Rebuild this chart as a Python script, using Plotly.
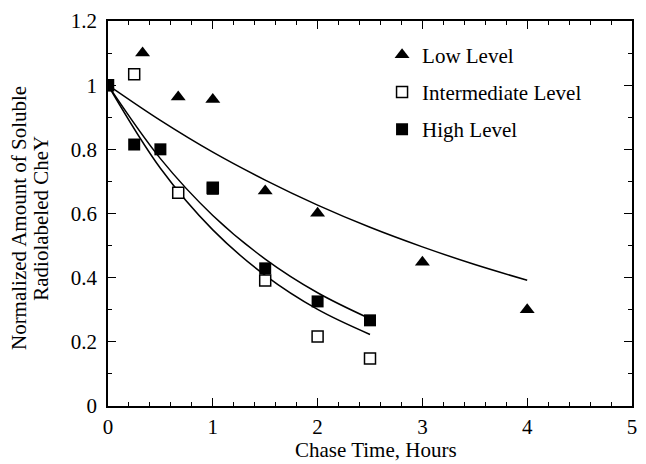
import plotly.graph_objects as go

# Measured data (Chase time in hours, normalized soluble CheY)
low_x = [0.33, 0.67, 1.0, 1.5, 2.0, 3.0, 4.0]
low_y = [1.10, 0.963, 0.955, 0.670, 0.601, 0.448, 0.300]

mid_x = [0.0, 0.25, 0.67, 1.0, 1.5, 2.0, 2.5]
mid_y = [1.0, 1.034, 0.665, 0.68, 0.391, 0.217, 0.148]

high_x = [0.0, 0.25, 0.5, 1.0, 1.5, 2.0, 2.5]
high_y = [1.0, 0.815, 0.80, 0.677, 0.429, 0.326, 0.267]

# Fitted curves
low_fit_x = [0, 0.5, 1.0, 1.5, 2.0, 2.5, 3.0, 3.5, 4.0]
low_fit_y = [1.0, 0.890, 0.791, 0.704, 0.626, 0.557, 0.496, 0.441, 0.392]
mid_fit_x = [0, 0.5, 1.0, 1.5, 2.0, 2.5]
mid_fit_y = [1.0, 0.741, 0.549, 0.407, 0.301, 0.223]
high_fit_x = [0, 0.5, 1.0, 1.5, 2.0, 2.5]
high_fit_y = [1.0, 0.771, 0.594, 0.458, 0.353, 0.272]

x_ticks = [0, 1, 2, 3, 4, 5]
y_ticks = [0, 0.2, 0.4, 0.6, 0.8, 1.0, 1.2]
y_tick_text = ["0", "0.2", "0.4", "0.6", "0.8", "1", "1.2"]

x_title = "Chase Time, Hours"
y_title_lines = ["Normalized Amount of Soluble", "Radiolabeled CheY"]

FONT = "Liberation Serif"
line_style = dict(color="black", width=1.5, shape="spline")

fig = go.Figure()
for fx, fy in [(low_fit_x, low_fit_y), (mid_fit_x, mid_fit_y), (high_fit_x, high_fit_y)]:
    fig.add_trace(go.Scatter(x=fx, y=fy, mode="lines", line=line_style,
                             showlegend=False, hoverinfo="skip"))

fig.add_trace(go.Scatter(x=low_x, y=low_y, mode="markers", name="Low Level",
                         legendgroup="a",
                         marker=dict(symbol="triangle-up", size=13, color="black",
                                     line=dict(width=0))))
fig.add_trace(go.Scatter(x=mid_x, y=mid_y, mode="markers", name="Intermediate Level",
                         legendgroup="b",
                         marker=dict(symbol="square", size=11, color="white",
                                     line=dict(color="black", width=1.5))))
fig.add_trace(go.Scatter(x=high_x, y=high_y, mode="markers", name="High Level",
                         legendgroup="c",
                         marker=dict(symbol="square", size=12, color="black",
                                     line=dict(width=0))))

axis_common = dict(showline=True, linecolor="black", linewidth=1.5, mirror="ticks",
                   ticks="inside", ticklen=8, tickwidth=1.2, tickcolor="black",
                   showgrid=False, zeroline=False,
                   tickfont=dict(family=FONT, size=21, color="black"))

fig.update_xaxes(range=[0, 5], tickvals=x_ticks, ticklabelstandoff=1,
                 minor=dict(ticks="inside", ticklen=4, dtick=0.2, tickcolor="black", tickwidth=1),
                 **axis_common)
fig.update_yaxes(range=[0, 1.2], tickvals=y_ticks, ticktext=y_tick_text, ticklabelstandoff=5,
                 minor=dict(ticks="inside", ticklen=4, dtick=0.1, tickcolor="black", tickwidth=1),
                 **axis_common)

fig.add_annotation(text=x_title, xref="paper", yref="paper", x=0.511, y=-0.113,
                   xanchor="center", yanchor="middle", showarrow=False,
                   font=dict(family=FONT, size=21, color="black"))
for xp, line in zip([-0.170, -0.1285], y_title_lines):
    fig.add_annotation(text=line, xref="paper", yref="paper", x=xp, y=0.488,
                       xanchor="center", yanchor="middle", showarrow=False, textangle=-90,
                       font=dict(family=FONT, size=21, color="black"))

fig.update_layout(
    width=646, height=464,
    margin=dict(l=108, r=9, t=19, b=58),
    paper_bgcolor="white", plot_bgcolor="white",
    font=dict(family=FONT, color="black"),
    legend=dict(x=0.523, y=0.965, xanchor="left", yanchor="top",
                font=dict(family=FONT, size=21, color="black"),
                tracegroupgap=7, bgcolor="rgba(0,0,0,0)"),
)

fig.write_html("out.html")
